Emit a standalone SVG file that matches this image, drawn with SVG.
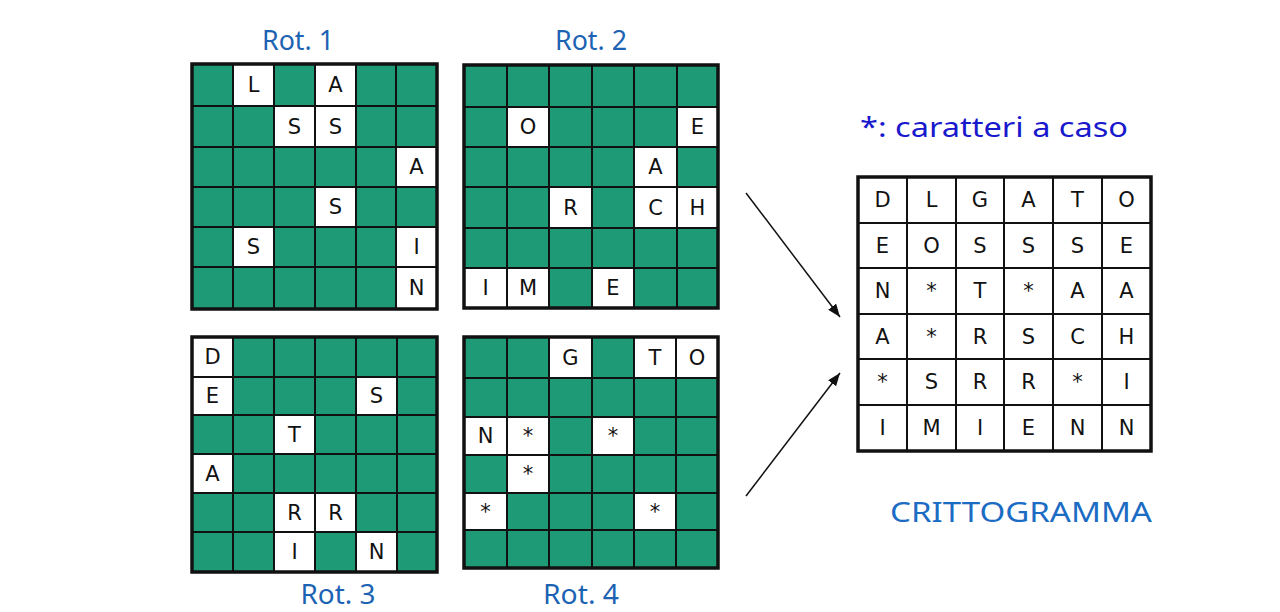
<svg xmlns="http://www.w3.org/2000/svg" width="1280" height="612" viewBox="0 0 1280 612">
<style>
.bg{fill:#ffffff}
.g{fill:#1f9a77}
.w{fill:#ffffff}
.ln{fill:none;stroke:#111;stroke-width:2}
.bd{fill:none;stroke:#111;stroke-width:3.5}
.t{font-family:"DejaVu Sans","Noto Sans",sans-serif;font-size:21px;text-anchor:middle;fill:#111}
.lab{font-family:"Noto Sans","DejaVu Sans",sans-serif;font-size:28px;fill:#1d63b3;text-anchor:middle}
.note{font-family:"Noto Sans","DejaVu Sans",sans-serif;font-size:27px;fill:#1818cc}
.title{font-family:"Noto Sans","DejaVu Sans",sans-serif;font-size:27px;fill:#1c6cc4}
.arr{stroke:#111;stroke-width:1.5;fill:none}
</style>
<defs>
<marker id="ah" markerUnits="userSpaceOnUse" markerWidth="14" markerHeight="12" refX="13" refY="5" orient="auto">
<path d="M0,0 L13,5 L0,10 Z" fill="#111"/>
</marker>
</defs>
<rect class="bg" x="0" y="0" width="1280" height="612"/>

<g id="labels">
<text class="lab" x="298" y="50" textLength="72" lengthAdjust="spacingAndGlyphs">Rot. 1</text>
<text class="lab" x="591" y="50" textLength="72" lengthAdjust="spacingAndGlyphs">Rot. 2</text>
<text class="lab" x="338" y="604" textLength="75" lengthAdjust="spacingAndGlyphs">Rot. 3</text>
<text class="lab" x="581" y="604" textLength="76" lengthAdjust="spacingAndGlyphs">Rot. 4</text>
<text class="note" x="860" y="137" textLength="268" lengthAdjust="spacingAndGlyphs">*: caratteri a caso</text>
<text class="title" x="890" y="522" textLength="262" lengthAdjust="spacingAndGlyphs">CRITTOGRAMMA</text>
</g>

<g id="rot1">
<rect class="g" x="192" y="64" width="245" height="245"/>
<rect class="w" x="233" y="64" width="41" height="42"/>
<rect class="w" x="315" y="64" width="41" height="42"/>
<rect class="w" x="274" y="106" width="41" height="41"/>
<rect class="w" x="315" y="106" width="41" height="41"/>
<rect class="w" x="396" y="147" width="41" height="40"/>
<rect class="w" x="315" y="187" width="41" height="40"/>
<rect class="w" x="233" y="227" width="41" height="40"/>
<rect class="w" x="396" y="227" width="41" height="40"/>
<rect class="w" x="396" y="267" width="41" height="42"/>
<path class="ln" d="M233,64V309M274,64V309M315,64V309M356,64V309M396,64V309M192,106H437M192,147H437M192,187H437M192,227H437M192,267H437"/>
<rect class="bd" x="192" y="64" width="245" height="245"/>
<text class="t" x="253.5" y="92">L</text>
<text class="t" x="335.5" y="92">A</text>
<text class="t" x="294.5" y="133.5">S</text>
<text class="t" x="335.5" y="133.5">S</text>
<text class="t" x="416.5" y="174">A</text>
<text class="t" x="335.5" y="214">S</text>
<text class="t" x="253.5" y="254">S</text>
<text class="t" x="416.5" y="254">I</text>
<text class="t" x="416.5" y="295">N</text>
</g>

<g id="rot2">
<rect class="g" x="464" y="65" width="254" height="243"/>
<rect class="w" x="507" y="107" width="42" height="40"/>
<rect class="w" x="677" y="107" width="41" height="40"/>
<rect class="w" x="634" y="147" width="43" height="40"/>
<rect class="w" x="549" y="187" width="43" height="41"/>
<rect class="w" x="634" y="187" width="43" height="41"/>
<rect class="w" x="677" y="187" width="41" height="41"/>
<rect class="w" x="464" y="268" width="43" height="40"/>
<rect class="w" x="507" y="268" width="42" height="40"/>
<rect class="w" x="592" y="268" width="42" height="40"/>
<path class="ln" d="M507,65V308M549,65V308M592,65V308M634,65V308M677,65V308M464,107H718M464,147H718M464,187H718M464,228H718M464,268H718"/>
<rect class="bd" x="464" y="65" width="254" height="243"/>
<text class="t" x="528" y="134">O</text>
<text class="t" x="697.5" y="134">E</text>
<text class="t" x="655.5" y="174">A</text>
<text class="t" x="570.5" y="214.5">R</text>
<text class="t" x="655.5" y="214.5">C</text>
<text class="t" x="697.5" y="214.5">H</text>
<text class="t" x="485.5" y="295">I</text>
<text class="t" x="528" y="295">M</text>
<text class="t" x="613" y="295">E</text>
</g>

<g id="rot3">
<rect class="g" x="192" y="337" width="245" height="235"/>
<rect class="w" x="192" y="337" width="41" height="40"/>
<rect class="w" x="192" y="377" width="41" height="38"/>
<rect class="w" x="356" y="377" width="41" height="38"/>
<rect class="w" x="274" y="415" width="41" height="39"/>
<rect class="w" x="192" y="454" width="41" height="39"/>
<rect class="w" x="274" y="493" width="41" height="39"/>
<rect class="w" x="315" y="493" width="41" height="39"/>
<rect class="w" x="274" y="532" width="41" height="40"/>
<rect class="w" x="356" y="532" width="41" height="40"/>
<path class="ln" d="M233,337V572M274,337V572M315,337V572M356,337V572M397,337V572M192,377H437M192,415H437M192,454H437M192,493H437M192,532H437"/>
<rect class="bd" x="192" y="337" width="245" height="235"/>
<text class="t" x="212.5" y="364">D</text>
<text class="t" x="212.5" y="403">E</text>
<text class="t" x="376.5" y="403">S</text>
<text class="t" x="294.5" y="441.5">T</text>
<text class="t" x="212.5" y="480.5">A</text>
<text class="t" x="294.5" y="519.5">R</text>
<text class="t" x="335.5" y="519.5">R</text>
<text class="t" x="294.5" y="559">I</text>
<text class="t" x="376.5" y="559">N</text>
</g>

<g id="rot4">
<rect class="g" x="464" y="337" width="254" height="231"/>
<rect class="w" x="549" y="337" width="43" height="41"/>
<rect class="w" x="634" y="337" width="42" height="41"/>
<rect class="w" x="676" y="337" width="42" height="41"/>
<rect class="w" x="464" y="417" width="43" height="38"/>
<rect class="w" x="507" y="417" width="42" height="38"/>
<rect class="w" x="592" y="417" width="42" height="38"/>
<rect class="w" x="507" y="455" width="42" height="38"/>
<rect class="w" x="464" y="493" width="43" height="37"/>
<rect class="w" x="634" y="493" width="42" height="37"/>
<path class="ln" d="M507,337V568M549,337V568M592,337V568M634,337V568M676,337V568M464,378H718M464,417H718M464,455H718M464,493H718M464,530H718"/>
<rect class="bd" x="464" y="337" width="254" height="231"/>
<text class="t" x="570.5" y="364.5">G</text>
<text class="t" x="655" y="364.5">T</text>
<text class="t" x="697" y="364.5">O</text>
<text class="t" x="485.5" y="443">N</text>
<text class="t" x="528" y="443">*</text>
<text class="t" x="613" y="443">*</text>
<text class="t" x="528" y="481">*</text>
<text class="t" x="485.5" y="518.5">*</text>
<text class="t" x="655" y="518.5">*</text>
</g>

<g id="crittogramma">
<rect class="w" x="858" y="177" width="293" height="274"/>
<path class="ln" d="M907,177V451M956,177V451M1004,177V451M1053,177V451M1102,177V451M858,223H1151M858,268H1151M858,314H1151M858,359H1151M858,405H1151"/>
<rect class="bd" x="858" y="177" width="293" height="274"/>
<text class="t" x="882.5" y="207">D</text>
<text class="t" x="931.5" y="207">L</text>
<text class="t" x="980" y="207">G</text>
<text class="t" x="1028.5" y="207">A</text>
<text class="t" x="1077.5" y="207">T</text>
<text class="t" x="1126.5" y="207">O</text>
<text class="t" x="882.5" y="252.5">E</text>
<text class="t" x="931.5" y="252.5">O</text>
<text class="t" x="980" y="252.5">S</text>
<text class="t" x="1028.5" y="252.5">S</text>
<text class="t" x="1077.5" y="252.5">S</text>
<text class="t" x="1126.5" y="252.5">E</text>
<text class="t" x="882.5" y="298">N</text>
<text class="t" x="931.5" y="298">*</text>
<text class="t" x="980" y="298">T</text>
<text class="t" x="1028.5" y="298">*</text>
<text class="t" x="1077.5" y="298">A</text>
<text class="t" x="1126.5" y="298">A</text>
<text class="t" x="882.5" y="343.5">A</text>
<text class="t" x="931.5" y="343.5">*</text>
<text class="t" x="980" y="343.5">R</text>
<text class="t" x="1028.5" y="343.5">S</text>
<text class="t" x="1077.5" y="343.5">C</text>
<text class="t" x="1126.5" y="343.5">H</text>
<text class="t" x="882.5" y="389">*</text>
<text class="t" x="931.5" y="389">S</text>
<text class="t" x="980" y="389">R</text>
<text class="t" x="1028.5" y="389">R</text>
<text class="t" x="1077.5" y="389">*</text>
<text class="t" x="1126.5" y="389">I</text>
<text class="t" x="882.5" y="435">I</text>
<text class="t" x="931.5" y="435">M</text>
<text class="t" x="980" y="435">I</text>
<text class="t" x="1028.5" y="435">E</text>
<text class="t" x="1077.5" y="435">N</text>
<text class="t" x="1126.5" y="435">N</text>
</g>

<g id="connectors">
<line class="arr" x1="746" y1="193" x2="840" y2="317" marker-end="url(#ah)"/>
<line class="arr" x1="746" y1="496" x2="840" y2="373" marker-end="url(#ah)"/>
</g>
</svg>
